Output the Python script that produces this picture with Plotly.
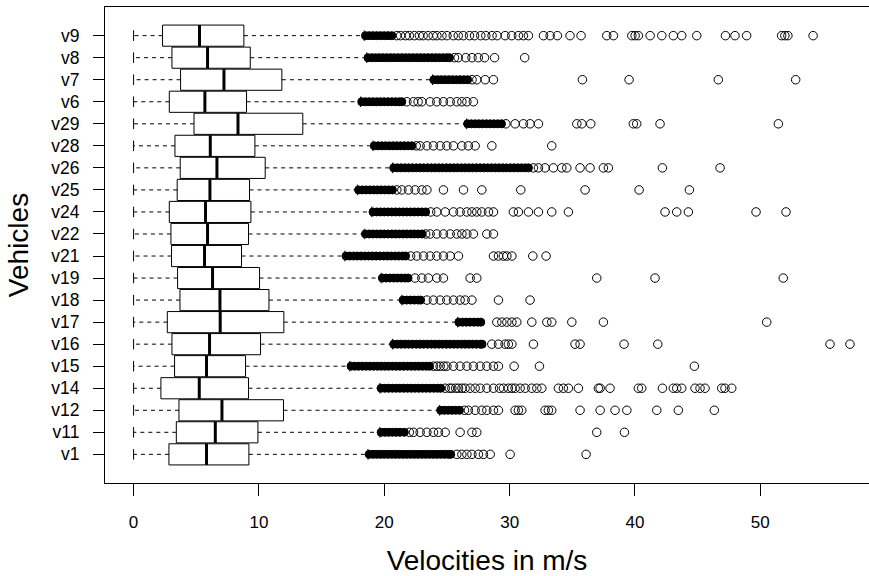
import plotly.graph_objects as go

# ---------------- data ----------------
categories = ["v1", "v11", "v12", "v14", "v15", "v16", "v17", "v18", "v19", "v21",
              "v22", "v24", "v25", "v26", "v28", "v29", "v6", "v7", "v8", "v9"]

whisker_lo = [0.0, 0.0, 0.0, 0.0, 0.0, 0.0, 0.0, 0.0, 0.0, 0.0,
              0.0, 0.0, 0.0, 0.0, 0.0, 0.0, 0.0, 0.0, 0.0, 0.0]
q1 = [2.82, 3.41, 3.62, 2.18, 3.27, 3.06, 2.69, 3.70, 3.51, 3.03,
      2.98, 2.85, 3.48, 3.72, 3.30, 4.82, 2.85, 3.75, 3.06, 2.31]
median = [5.82, 6.52, 7.05, 5.24, 5.82, 6.06, 6.91, 6.89, 6.30, 5.66,
          5.90, 5.74, 6.09, 6.65, 6.12, 8.33, 5.69, 7.21, 5.90, 5.26]
q3 = [9.20, 9.92, 11.96, 9.17, 8.93, 10.13, 11.99, 10.80, 10.05, 8.61,
      9.17, 9.36, 9.25, 10.50, 9.68, 13.50, 9.01, 11.83, 9.31, 8.80]
whisker_hi = [18.7, 19.65, 24.4, 19.65, 17.25, 20.65, 25.85, 21.4, 19.75, 16.85,
              18.4, 19.0, 17.85, 20.65, 19.1, 26.55, 18.1, 23.85, 18.6, 18.4]

# outliers: "dense" = heavily overlapping points (render as a solid band),
# "sparse" = individually visible points
dense_v1 = [18.8, 19.1, 19.4, 19.7, 20.0, 20.3, 20.6, 20.9, 21.2, 21.5, 21.8, 22.1,
            22.4, 22.7, 23.0, 23.3, 23.6, 23.9, 24.2, 24.5, 24.8, 25.1, 25.3]
sparse_v1 = [25.79, 26.19, 26.59, 26.99, 27.51, 27.91, 28.45, 30.04, 36.1]

dense_v11 = [19.75, 20.05, 20.35, 20.65, 20.95, 21.25, 21.6]
sparse_v11 = [22.0, 22.33, 22.86, 23.40, 23.92, 24.32, 24.86, 26.05, 26.99, 27.38, 36.95, 39.16]

dense_v12 = [24.5, 24.8, 25.1, 25.4, 25.7, 26.0]
sparse_v12 = [26.4, 26.71, 27.25, 27.78, 28.18, 28.71, 29.11, 30.44, 30.70, 30.97, 32.83,
              33.09, 33.36, 35.62, 37.22, 38.41, 39.35, 41.74, 43.46, 46.33]

dense_v14 = [19.75, 20.05, 20.35, 20.65, 20.95, 21.25, 21.55, 21.85, 22.15, 22.45, 22.75,
             23.05, 23.35, 23.65, 23.95, 24.25, 24.5]
sparse_v14 = [24.86, 25.2, 25.39, 25.7, 25.92, 26.2, 26.45, 26.85, 27.25, 27.65, 28.18, 28.71,
              29.2, 29.51, 29.9, 30.18, 30.44, 30.84, 31.24, 31.77, 32.17, 32.57, 33.89, 34.29,
              34.69, 35.49, 37.08, 37.22, 38.01, 40.27, 40.54, 42.19, 43.06, 43.33, 43.73,
              44.79, 45.19, 45.59, 46.92, 47.18, 47.72]

dense_v15 = [17.35, 17.65, 17.95, 18.25, 18.55, 18.85, 19.15, 19.45, 19.75, 20.05, 20.35,
             20.65, 20.95, 21.25, 21.55, 21.85, 22.15, 22.45, 22.75, 23.05, 23.35, 23.6]
sparse_v15 = [23.92, 24.2, 24.46, 24.75, 24.99, 25.52, 26.05, 26.59, 27.11, 27.65, 28.18,
              28.71, 29.11, 30.36, 32.38, 44.74]

dense_v16 = [20.75, 21.05, 21.35, 21.65, 21.95, 22.25, 22.55, 22.85, 23.15, 23.45, 23.75,
             24.05, 24.35, 24.65, 24.95, 25.25, 25.55, 25.85, 26.15, 26.45, 26.75, 27.05,
             27.35, 27.65, 27.8]
sparse_v16 = [28.58, 29.11, 29.64, 29.9, 30.18, 31.9, 35.22, 35.62, 39.13, 41.82, 55.56, 57.15]

dense_v17 = [25.95, 26.25, 26.55, 26.85, 27.15, 27.45, 27.7]
sparse_v17 = [28.98, 29.38, 29.78, 30.18, 30.57, 31.77, 32.97, 33.36, 34.96, 37.48, 50.51]

dense_v18 = [21.5, 21.8, 22.1, 22.4, 22.7, 22.9]
sparse_v18 = [23.4, 23.92, 24.46, 24.99, 25.52, 26.05, 26.45, 26.99, 29.11, 31.63]

dense_v19 = [19.85, 20.15, 20.45, 20.75, 21.05, 21.35, 21.65, 21.9]
sparse_v19 = [22.46, 23.0, 23.52, 24.19, 24.72, 26.85, 27.38, 36.95, 41.6, 51.83]

dense_v21 = [16.95, 17.25, 17.55, 17.85, 18.15, 18.45, 18.75, 19.05, 19.35, 19.65, 19.95,
             20.25, 20.55, 20.85, 21.15, 21.45, 21.7]
sparse_v21 = [22.1, 22.6, 23.13, 23.66, 24.19, 24.72, 25.26, 25.92, 28.71, 29.11, 29.5,
              29.78, 30.18, 31.85, 32.91]

dense_v22 = [18.5, 18.8, 19.1, 19.4, 19.7, 20.0, 20.3, 20.6, 20.9, 21.2, 21.5, 21.8, 22.1,
             22.4, 22.7, 23.0]
sparse_v22 = [23.3, 23.66, 24.19, 24.72, 25.26, 25.79, 26.19, 26.59, 27.11, 28.18, 28.71]

dense_v24 = [19.1, 19.4, 19.7, 20.0, 20.3, 20.6, 20.9, 21.2, 21.5, 21.8, 22.1, 22.4, 22.7,
             23.0, 23.3]
sparse_v24 = [23.7, 24.19, 24.86, 25.52, 26.05, 26.59, 26.99, 27.38, 27.78, 28.31, 28.71,
              30.30, 30.70, 31.50, 32.30, 33.36, 34.69, 42.40, 43.33, 44.26, 49.66, 52.05]

dense_v25 = [17.95, 18.25, 18.55, 18.85, 19.15, 19.45, 19.75, 20.05, 20.35, 20.65]
sparse_v25 = [21.0, 21.40, 21.93, 22.46, 23.0, 23.40, 24.72, 26.32, 27.78, 30.89, 36.02,
              40.33, 44.34]

dense_v26 = [20.75, 21.05, 21.35, 21.65, 21.95, 22.25, 22.55, 22.85, 23.15, 23.45, 23.75,
             24.05, 24.35, 24.65, 24.95, 25.25, 25.55, 25.85, 26.15, 26.45, 26.75, 27.05,
             27.35, 27.65, 27.95, 28.25, 28.55, 28.85, 29.15, 29.45, 29.75, 30.05, 30.35,
             30.65, 30.95, 31.25, 31.5]
sparse_v26 = [31.9, 32.3, 32.83, 33.49, 34.16, 34.56, 35.62, 36.42, 37.48, 37.88, 42.19, 46.79]

dense_v28 = [19.2, 19.5, 19.8, 20.1, 20.4, 20.7, 21.0, 21.3, 21.6, 21.9, 22.2]
sparse_v28 = [22.55, 22.86, 23.40, 23.92, 24.46, 24.99, 25.52, 26.19, 26.71, 27.25, 28.58, 33.36]

dense_v29 = [26.65, 26.95, 27.25, 27.55, 27.85, 28.15, 28.45, 28.75, 29.05, 29.35]
sparse_v29 = [29.7, 30.44, 31.1, 31.63, 32.3, 35.36, 35.76, 36.47, 39.87, 40.14, 42.0, 51.44]

dense_v6 = [18.2, 18.5, 18.8, 19.1, 19.4, 19.7, 20.0, 20.3, 20.6, 20.9, 21.2, 21.4]
sparse_v6 = [21.8, 22.33, 22.7, 23.0, 23.66, 24.19, 24.72, 25.26, 25.79, 26.19, 26.59, 27.11]

dense_v7 = [23.95, 24.25, 24.55, 24.85, 25.15, 25.45, 25.75, 26.05, 26.35, 26.65]
sparse_v7 = [27.0, 27.38, 28.05, 28.71, 35.81, 39.53, 46.65, 52.82]

dense_v8 = [18.7, 19.0, 19.3, 19.6, 19.9, 20.2, 20.5, 20.8, 21.1, 21.4, 21.7, 22.0, 22.3,
            22.6, 22.9, 23.2, 23.5, 23.8, 24.1, 24.4, 24.7, 25.0, 25.2]
sparse_v8 = [25.6, 25.9, 26.5, 27.0, 27.5, 28.0, 28.8, 31.2]

dense_v9 = [18.5, 18.8, 19.1, 19.4, 19.7, 20.0, 20.3, 20.6]
sparse_v9 = [21.0, 21.3, 21.7, 22.0, 22.4, 22.8, 23.1, 23.5, 23.9, 24.2, 24.6, 25.0, 25.5,
             25.9, 26.3, 26.8, 27.2, 27.7, 28.1, 28.6, 29.0, 29.64, 30.17, 30.70, 31.10,
             31.50, 32.70, 33.23, 33.81, 34.82, 35.70, 37.75, 38.28, 39.75, 40.01, 40.27,
             41.21, 42.14, 43.06, 43.73, 44.93, 47.22, 47.98, 48.91, 51.70, 51.96, 52.2,
             54.21]

dense_lists = [dense_v1, dense_v11, dense_v12, dense_v14, dense_v15, dense_v16, dense_v17,
               dense_v18, dense_v19, dense_v21, dense_v22, dense_v24, dense_v25, dense_v26,
               dense_v28, dense_v29, dense_v6, dense_v7, dense_v8, dense_v9]
sparse_lists = [sparse_v1, sparse_v11, sparse_v12, sparse_v14, sparse_v15, sparse_v16,
                sparse_v17, sparse_v18, sparse_v19, sparse_v21, sparse_v22, sparse_v24,
                sparse_v25, sparse_v26, sparse_v28, sparse_v29, sparse_v6, sparse_v7,
                sparse_v8, sparse_v9]

x_ticks = [0, 10, 20, 30, 40, 50]

# ---------------- build geometry from data ----------------
HALF = 0.48      # half box thickness (category units)
STAPLE = 0.24    # half staple length
ypos = list(range(1, len(categories) + 1))

box_x, box_y, med_x, med_y = [], [], [], []
wh_x, wh_y, st_x, st_y = [], [], [], []
dx, dy, sx, sy = [], [], [], []
for i, y in enumerate(ypos):
    box_x += [q1[i], q3[i], q3[i], q1[i], q1[i], None]
    box_y += [y - HALF, y - HALF, y + HALF, y + HALF, y - HALF, None]
    med_x += [median[i], median[i], None]
    med_y += [y - HALF, y + HALF, None]
    wh_x += [q1[i], whisker_lo[i], None, q3[i], whisker_hi[i], None]
    wh_y += [y, y, None, y, y, None]
    st_x += [whisker_lo[i], whisker_lo[i], None, whisker_hi[i], whisker_hi[i], None]
    st_y += [y - STAPLE, y + STAPLE, None, y - STAPLE, y + STAPLE, None]
    dx += dense_lists[i]
    dy += [y] * len(dense_lists[i])
    sx += sparse_lists[i]
    sy += [y] * len(sparse_lists[i])

fig = go.Figure()
fig.add_trace(go.Scatter(x=wh_x, y=wh_y, mode="lines", hoverinfo="skip",
                         line=dict(color="black", width=1, dash="4px,4px")))
fig.add_trace(go.Scatter(x=st_x, y=st_y, mode="lines", hoverinfo="skip",
                         line=dict(color="black", width=1)))
fig.add_trace(go.Scatter(x=box_x, y=box_y, mode="lines", hoverinfo="skip",
                         line=dict(color="black", width=1)))
fig.add_trace(go.Scatter(x=med_x, y=med_y, mode="lines", hoverinfo="skip",
                         line=dict(color="black", width=3)))
fig.add_trace(go.Scatter(x=dx, y=dy, mode="markers",
                         marker=dict(symbol="circle", size=8, color="black",
                                     line=dict(color="black", width=1))))
fig.add_trace(go.Scatter(x=sx, y=sy, mode="markers",
                         marker=dict(symbol="circle-open", size=8.5, color="black",
                                     line=dict(color="black", width=1))))

font_family = "Liberation Sans, Arial, Helvetica, sans-serif"
fig.update_layout(
    width=869, height=576,
    margin=dict(l=105, r=0, t=7, b=93),
    paper_bgcolor="white", plot_bgcolor="white",
    showlegend=False,
    font=dict(family=font_family, color="black"),
    xaxis=dict(range=[-2.28, 58.67], tickvals=x_ticks, ticks="outside", ticklen=12,
               tickwidth=1, tickcolor="black", showline=True, linecolor="black",
               linewidth=1, mirror=True, showgrid=False, zeroline=False,
               automargin=False,
               tickfont=dict(size=17), ticklabelstandoff=12,
               title=dict(text="Velocities in m/s", font=dict(size=28), standoff=20)),
    yaxis=dict(range=[-0.3, 21.3], tickvals=ypos, ticktext=categories, ticks="outside",
               ticklen=11, tickwidth=1, tickcolor="black", showline=True,
               linecolor="black", linewidth=1, mirror=False, showgrid=False,
               zeroline=False, automargin=False,
               tickfont=dict(size=17.5), ticklabelstandoff=10,
               title=dict(text="Vehicles", font=dict(size=28), standoff=14)),
)

fig.write_html("out.html",
               config={"displayModeBar": False},
               post_script="document.body.style.margin='0px';"
                           "document.body.style.overflow='hidden';")
